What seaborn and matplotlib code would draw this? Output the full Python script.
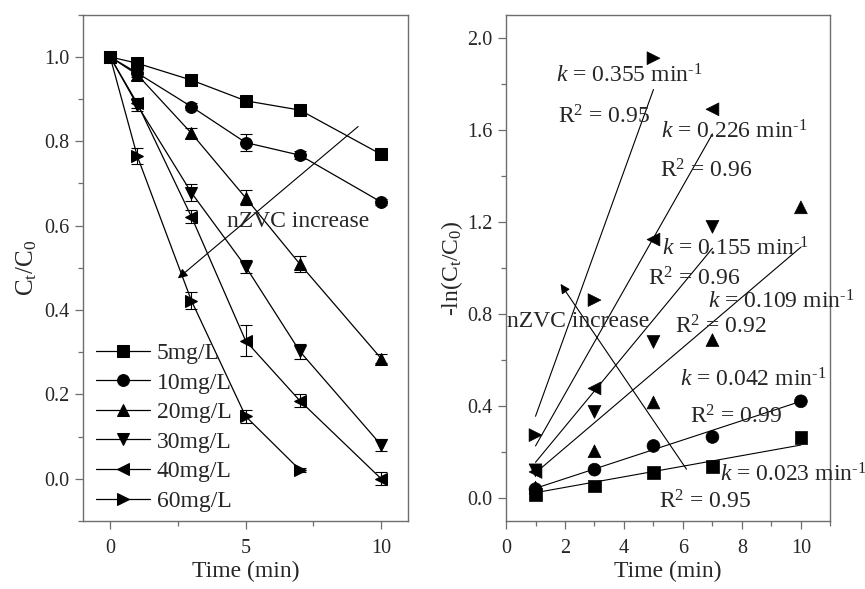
import numpy as np
import pandas as pd
import matplotlib
matplotlib.use('Agg')
import matplotlib.pyplot as plt
import seaborn as sns
from matplotlib.ticker import MultipleLocator

# data
labels = ['5mg/L', '10mg/L', '20mg/L', '30mg/L', '40mg/L', '60mg/L']
markers = ['s', 'o', '^', 'v', '<', '>']

# left panel: Ct/C0 vs time
time_left = [
    [0, 1, 3, 5, 7, 10],
    [0, 1, 3, 5, 7, 10],
    [0, 1, 3, 5, 7, 10],
    [0, 1, 3, 5, 7, 10],
    [0, 1, 3, 5, 7, 10],
    [0, 1, 3, 5, 7],
]
ratio = [
    [1.0, 0.985, 0.945, 0.896, 0.874, 0.769],
    [1.0, 0.962, 0.882, 0.797, 0.767, 0.656],
    [1.0, 0.958, 0.819, 0.666, 0.509, 0.285],
    [1.0, 0.886, 0.678, 0.503, 0.302, 0.080],
    [1.0, 0.890, 0.621, 0.327, 0.185, 0.000],
    [1.0, 0.765, 0.422, 0.148, 0.021],
]
ratio_err = [
    [0.0, 0.008, 0.006, 0.006, 0.006, 0.010],
    [0.0, 0.010, 0.008, 0.020, 0.010, 0.008],
    [0.0, 0.012, 0.012, 0.018, 0.018, 0.010],
    [0.0, 0.015, 0.020, 0.015, 0.018, 0.015],
    [0.0, 0.012, 0.015, 0.037, 0.015, 0.015],
    [0.0, 0.020, 0.020, 0.015, 0.005],
]

# right panel: -ln(Ct/C0) vs time, pseudo first order
time_right = [
    [1, 3, 5, 7, 10],
    [1, 3, 5, 7, 10],
    [1, 3, 5, 7, 10],
    [1, 3, 5, 7],
    [1, 3, 5, 7],
    [1, 3, 5],
]
lnratio = [
    [0.016, 0.052, 0.109, 0.135, 0.261],
    [0.038, 0.123, 0.226, 0.265, 0.420],
    [0.045, 0.203, 0.415, 0.686, 1.263],
    [0.120, 0.374, 0.678, 1.178],
    [0.113, 0.476, 1.123, 1.689],
    [0.273, 0.860, 1.911],
]
k_vals = [0.023, 0.042, 0.109, 0.155, 0.226, 0.355]
r2_vals = ['0.95', '0.99', '0.92', '0.96', '0.96', '0.95']

left_df = pd.DataFrame([(lab, t, r, e) for lab, ts, rs, es in zip(labels, time_left, ratio, ratio_err)
                        for t, r, e in zip(ts, rs, es)], columns=['conc', 'time', 'ratio', 'err'])
right_df = pd.DataFrame([(lab, t, v) for lab, ts, vs in zip(labels, time_right, lnratio)
                         for t, v in zip(ts, vs)], columns=['conc', 'time', 'lnratio'])

sns.set_style('ticks')
plt.rcParams['font.family'] = ['Liberation Serif', 'DejaVu Serif']
plt.rcParams['mathtext.fontset'] = 'custom'
plt.rcParams['mathtext.rm'] = 'Liberation Serif'
plt.rcParams['mathtext.it'] = 'Liberation Serif:italic'

fig = plt.figure(figsize=(8.65, 5.89), dpi=100)
ax1 = fig.add_axes([0.096, 0.1155, 0.376, 0.8595])
ax2 = fig.add_axes([0.585, 0.1155, 0.375, 0.8595])

black = ['black'] * len(labels)
fs = 17

# ---- left panel
sns.lineplot(data=left_df, x='time', y='ratio', hue='conc', style='conc', palette=black,
             markers=markers, dashes=False, markersize=8.5, linewidth=0.9,
             markeredgecolor='black', ax=ax1, sort=False, errorbar=None)
ax1.errorbar(left_df['time'], left_df['ratio'], yerr=left_df['err'], fmt='none',
             ecolor='black', elinewidth=0.8, capsize=4, capthick=0.8)

ax1.set_xlim(-1, 11)
ax1.set_ylim(-0.1, 1.1)
ax1.xaxis.set_major_locator(MultipleLocator(5))
ax1.xaxis.set_minor_locator(MultipleLocator(2.5))
ax1.yaxis.set_major_locator(MultipleLocator(0.2))
ax1.yaxis.set_minor_locator(MultipleLocator(0.1))
ax1.set_yticks([0.0, 0.2, 0.4, 0.6, 0.8, 1.0])
ax1.set_xlabel('Time (min)', fontsize=fs, labelpad=2)
ax1.set_ylabel(r'$\mathrm{C_t/C_0}$', fontsize=18, labelpad=4)

handles, labs = ax1.get_legend_handles_labels()
ax1.legend(handles, labs, loc='lower left', bbox_to_anchor=(-0.005, -0.01), frameon=False,
           fontsize=fs, handlelength=2.3, handletextpad=0.3, labelspacing=0.34,
           borderaxespad=0.2)

ax1.annotate('', xy=(2.5, 0.475), xytext=(9.15, 0.835),
             arrowprops=dict(arrowstyle='-|>', color='black', lw=0.8,
                             mutation_scale=14, shrinkA=0, shrinkB=0))
ax1.text(4.3, 0.61, 'nZVC increase', fontsize=fs, va='center', ha='left')

# ---- right panel
sns.scatterplot(data=right_df, x='time', y='lnratio', hue='conc', style='conc', palette=black,
                markers=markers, s=85, edgecolor='black', linewidth=0.5, ax=ax2, legend=False)
for ts, k in zip(time_right, k_vals):
    tt = np.array([ts[0], ts[-1]])
    ax2.plot(tt, k * tt, color='black', lw=0.8)

ax2.set_xlim(0, 11)
ax2.set_ylim(-0.1, 2.1)
ax2.xaxis.set_major_locator(MultipleLocator(2))
ax2.xaxis.set_minor_locator(MultipleLocator(1))
ax2.yaxis.set_major_locator(MultipleLocator(0.4))
ax2.yaxis.set_minor_locator(MultipleLocator(0.2))
ax2.set_xlabel('Time (min)', fontsize=fs, labelpad=2)
ax2.set_ylabel(r'-ln($\mathrm{C_t/C_0}$)', fontsize=fs, labelpad=2)

k_pos = [(7.25, 0.099), (5.9, 0.515), (6.86, 0.852), (5.3, 1.084), (5.24, 1.591), (1.69, 1.833)]
r_pos = [(5.2, -0.017), (6.24, 0.352), (5.73, 0.744), (4.83, 0.95), (5.22, 1.422), (1.77, 1.654)]
for k, r2, kp, rp in zip(k_vals, r2_vals, k_pos, r_pos):
    ax2.text(kp[0], kp[1], r'$k$ = %.3f min$^{\text{-1}}$' % k, fontsize=fs,
             va='center', ha='left', clip_on=False)
    ax2.text(rp[0], rp[1], r'R$^{\mathrm{2}}$ = ' + r2, fontsize=fs, va='center', ha='left')

ax2.annotate('', xy=(1.85, 0.93), xytext=(6.12, 0.125),
             arrowprops=dict(arrowstyle='-|>', color='black', lw=0.8,
                             mutation_scale=14, shrinkA=0, shrinkB=0))
ax2.text(0.04, 0.765, 'nZVC increase', fontsize=fs, va='center', ha='left')

for ax in (ax1, ax2):
    for sp in ax.spines.values():
        sp.set_visible(True)
        sp.set_color('#6e6e6e')
        sp.set_linewidth(1.0)
    ax.tick_params(which='major', direction='out', length=6, width=0.9, color='#6e6e6e',
                   labelsize=14.5, top=False, right=False)
    ax.tick_params(which='minor', direction='out', length=3.5, width=0.9, color='#6e6e6e',
                   top=False, right=False)
    ax.tick_params(axis='x', which='major', pad=7)

fig.savefig('out.png', dpi=100)
